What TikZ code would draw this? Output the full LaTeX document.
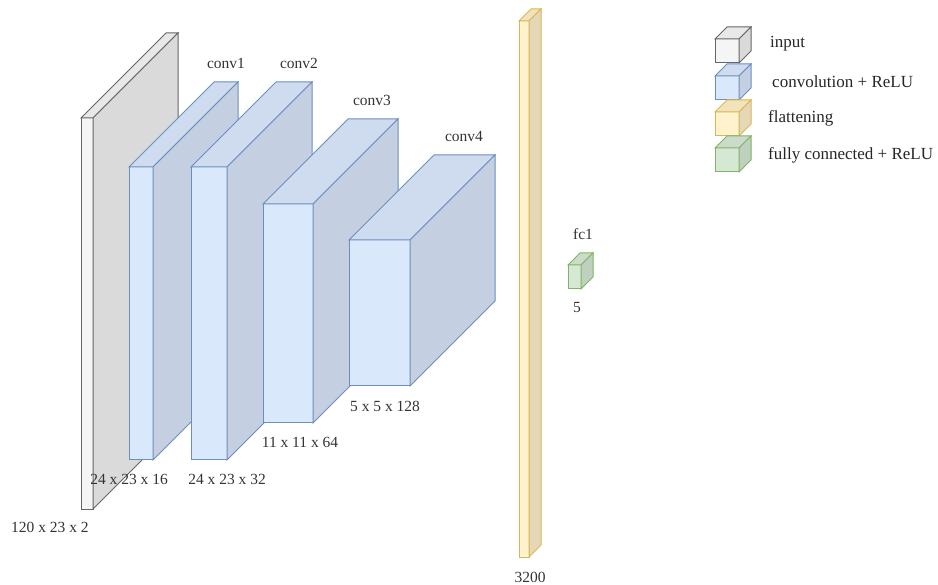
\documentclass[tikz,border=0pt]{standalone}
\usepackage{fontspec}
\setmainfont{Liberation Serif}

% face colours: F = front, T = top, S = side, D = outline
\definecolor{inF}{HTML}{F5F5F5}
\definecolor{inT}{HTML}{E8E8E8}
\definecolor{inS}{HTML}{DADADA}
\definecolor{inD}{HTML}{666666}
\definecolor{cvF}{HTML}{DAE8FC}
\definecolor{cvT}{HTML}{CFDCEF}
\definecolor{cvS}{HTML}{C4CFE1}
\definecolor{cvD}{HTML}{6C8EBF}
\definecolor{flF}{HTML}{FFF2CC}
\definecolor{flT}{HTML}{F2E3BB}
\definecolor{flS}{HTML}{E6D8B6}
\definecolor{flD}{HTML}{D6B656}
\definecolor{fcF}{HTML}{D5E8D4}
\definecolor{fcT}{HTML}{CADCC9}
\definecolor{fcS}{HTML}{BFD0BE}
\definecolor{fcD}{HTML}{82B366}

% a box seen in oblique projection:
% #1 name, #2 x, #3 y (top left of front face), #4 width, #5 height, #6 depth, #7 colour set
\newcommand\cubeblock[7]{%
  \node[face, fill=#7F, draw=#7D, minimum width=#4pt, minimum height=#5pt,
        anchor=north west] (#1) at (#2,#3) {};
  \draw[edge, fill=#7T, draw=#7D] (#1.north west) -- ++(#6,-#6) -- ++(#4,0)
        -- (#1.north east) -- cycle;
  \draw[edge, fill=#7S, draw=#7D] (#1.north east) -- ++(#6,-#6) -- ++(0,#5)
        -- (#1.south east) -- cycle;
}

\begin{document}
\begin{tikzpicture}[x=1pt, y=-1pt,
    edge/.style={line width=1pt, line join=miter},
    face/.style={edge, inner sep=0pt, outer sep=0pt},
    lbl/.style={font=\fontsize{15.5}{18}\selectfont, inner sep=0pt, text=black!80},
    leg/.style={font=\fontsize{17}{20}\selectfont, inner sep=0pt, anchor=west, text=black!85}]
  \useasboundingbox (0,0) rectangle (938,585);

  % network layers, back to front
  \cubeblock{input}{81}{118}{12}{391}{85}{in}
  \cubeblock{conv1}{129}{167}{24}{293}{85}{cv}
  \cubeblock{conv2}{191}{167}{36}{293}{85}{cv}
  \cubeblock{conv3}{263}{204}{50}{219}{85}{cv}
  \cubeblock{conv4}{349}{240}{61}{146}{85}{cv}
  \cubeblock{flat}{519}{21}{10}{536}{12}{fl}
  \cubeblock{fc1}{568}{265}{13}{24}{12}{fc}

  % layer names
  \node[lbl] (conv1name) at (226,63) {conv1};
  \node[lbl] (conv2name) at (299,63) {conv2};
  \node[lbl] (conv3name) at (372,100) {conv3};
  \node[lbl] (conv4name) at (464,136) {conv4};
  \node[lbl] (fc1name) at (583,234) {fc1};

  % layer sizes
  \node[lbl] (inputsize) at (50,527) {120 x 23 x 2};
  \node[lbl] (conv1size) at (129,479) {24 x 23 x 16};
  \node[lbl] (conv2size) at (227,479) {24 x 23 x 32};
  \node[lbl] (conv3size) at (300,442) {11 x 11 x 64};
  \node[lbl] (conv4size) at (385,406) {5 x 5 x 128};
  \node[lbl] (flatsize) at (530,577) {3200};
  \node[lbl] (fc1size) at (577,308) {5};

  % legend
  \cubeblock{keyinput}{715}{39}{24}{24}{12}{in}
  \cubeblock{keyconv}{715}{76}{24}{24}{12}{cv}
  \cubeblock{keyflat}{715}{112}{24}{24}{12}{fl}
  \cubeblock{keyfc}{715}{148}{24}{24}{12}{fc}
  \node[leg] (keyinputtext) at (770,44) {input};
  \node[leg] (keyconvtext) at (772,82) {convolution + ReLU};
  \node[leg] (keyflattext) at (768,118) {flattening};
  \node[leg] (keyfctext) at (768,155) {fully connected + ReLU};
\end{tikzpicture}
\end{document}
